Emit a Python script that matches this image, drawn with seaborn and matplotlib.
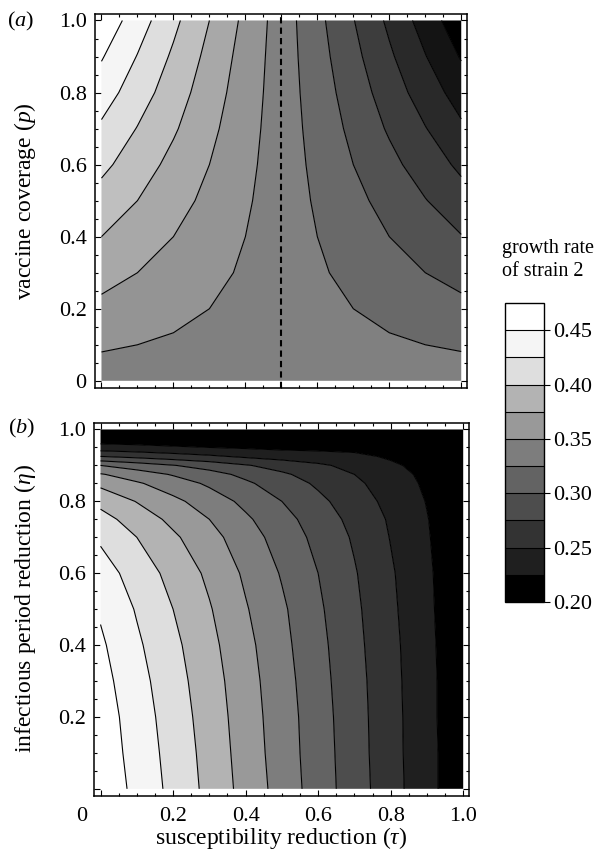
import matplotlib
matplotlib.use("Agg")
import matplotlib.pyplot as plt
import matplotlib.transforms as mtransforms
import seaborn as sns

# ---------------- data ----------------
# panel (a): growth rate of strain 2 vs susceptibility reduction (tau) and vaccine coverage (p)
tau_a = [0.0, 0.1, 0.2, 0.3, 0.4, 0.5, 0.6, 0.7, 0.8, 0.9, 1.0]
p_a = [0.0, 0.1, 0.2, 0.3, 0.4, 0.5, 0.6, 0.7, 0.8, 0.9, 1.0]
growth_a = [
    [0.338, 0.338, 0.338, 0.338, 0.338, 0.338, 0.338, 0.338, 0.338, 0.338, 0.338],
    [0.353, 0.350, 0.347, 0.344, 0.341, 0.338, 0.334, 0.331, 0.328, 0.325, 0.322],
    [0.369, 0.362, 0.356, 0.350, 0.344, 0.338, 0.331, 0.325, 0.319, 0.313, 0.307],
    [0.384, 0.375, 0.365, 0.356, 0.347, 0.338, 0.328, 0.319, 0.310, 0.300, 0.291],
    [0.400, 0.387, 0.375, 0.362, 0.350, 0.338, 0.325, 0.313, 0.300, 0.288, 0.276],
    [0.415, 0.400, 0.384, 0.369, 0.353, 0.338, 0.322, 0.307, 0.291, 0.276, 0.260],
    [0.431, 0.412, 0.393, 0.375, 0.356, 0.338, 0.319, 0.300, 0.282, 0.263, 0.245],
    [0.446, 0.424, 0.403, 0.381, 0.359, 0.338, 0.316, 0.294, 0.272, 0.251, 0.229],
    [0.462, 0.437, 0.412, 0.387, 0.362, 0.338, 0.313, 0.288, 0.263, 0.238, 0.214],
    [0.477, 0.449, 0.421, 0.393, 0.365, 0.338, 0.310, 0.282, 0.254, 0.226, 0.198],
    [0.493, 0.462, 0.431, 0.400, 0.369, 0.338, 0.307, 0.276, 0.245, 0.214, 0.183],
]

# panel (b): growth rate vs susceptibility reduction (tau) and infectious period reduction (eta)
tau_b = [0.0, 0.1, 0.2, 0.3, 0.4, 0.5, 0.6, 0.7, 0.8, 0.9, 1.0]
eta_b = [0.0, 0.1, 0.2, 0.3, 0.4, 0.5, 0.6, 0.7, 0.75, 0.8, 0.85, 0.875, 0.9, 0.925, 0.95, 0.975, 1.0]
growth_b = [
    [0.469, 0.443, 0.418, 0.393, 0.366, 0.340, 0.313, 0.287, 0.260, 0.233, 0.207],
    [0.466, 0.440, 0.416, 0.391, 0.364, 0.338, 0.312, 0.286, 0.259, 0.233, 0.207],
    [0.463, 0.438, 0.413, 0.389, 0.362, 0.337, 0.311, 0.285, 0.259, 0.232, 0.207],
    [0.459, 0.434, 0.410, 0.386, 0.360, 0.335, 0.309, 0.284, 0.258, 0.232, 0.207],
    [0.454, 0.429, 0.406, 0.382, 0.357, 0.332, 0.307, 0.282, 0.257, 0.231, 0.207],
    [0.447, 0.423, 0.400, 0.377, 0.352, 0.329, 0.304, 0.280, 0.255, 0.230, 0.206],
    [0.437, 0.414, 0.392, 0.370, 0.346, 0.323, 0.300, 0.277, 0.253, 0.229, 0.206],
    [0.421, 0.400, 0.379, 0.359, 0.336, 0.315, 0.293, 0.272, 0.249, 0.227, 0.206],
    [0.409, 0.389, 0.369, 0.350, 0.329, 0.309, 0.288, 0.268, 0.247, 0.226, 0.205],
    [0.393, 0.374, 0.356, 0.338, 0.319, 0.300, 0.281, 0.262, 0.243, 0.224, 0.205],
    [0.369, 0.353, 0.337, 0.321, 0.304, 0.288, 0.271, 0.255, 0.238, 0.221, 0.204],
    [0.352, 0.337, 0.323, 0.309, 0.294, 0.279, 0.264, 0.250, 0.235, 0.219, 0.204],
    [0.325, 0.313, 0.301, 0.290, 0.277, 0.265, 0.254, 0.243, 0.230, 0.215, 0.203],
    [0.275, 0.268, 0.261, 0.254, 0.246, 0.240, 0.236, 0.232, 0.221, 0.209, 0.202],
    [0.235, 0.232, 0.228, 0.225, 0.222, 0.219, 0.218, 0.216, 0.209, 0.204, 0.201],
    [0.210, 0.209, 0.208, 0.207, 0.206, 0.205, 0.204, 0.203, 0.202, 0.201, 0.200],
    [0.200, 0.200, 0.200, 0.200, 0.200, 0.200, 0.200, 0.200, 0.200, 0.200, 0.200],
]

levels_a = [0.175, 0.200, 0.225, 0.250, 0.275, 0.300, 0.325, 0.350,
            0.375, 0.400, 0.425, 0.450, 0.475, 0.500]
levels_b = [0.200, 0.225, 0.250, 0.275, 0.300, 0.325, 0.350,
            0.375, 0.400, 0.425, 0.450, 0.475]
shades_a = [0.0, 0.08, 0.16, 0.24, 0.32, 0.41, 0.50, 0.58, 0.66, 0.75, 0.87, 0.96, 1.0]
shades_b = [0.0, 0.12, 0.20, 0.30, 0.39, 0.49, 0.60, 0.70, 0.87, 0.96, 1.0]
cbar_ticks = [0.20, 0.25, 0.30, 0.35, 0.40, 0.45]
axis_ticks = [0.0, 0.2, 0.4, 0.6, 0.8, 1.0]
axis_ticklabels = ["0", "0.2", "0.4", "0.6", "0.8", "1.0"]

# ---------------- style ----------------
sns.set_theme(style="ticks")
plt.rcParams.update({
    "font.family": ["Liberation Serif", "DejaVu Serif"],
    "mathtext.fontset": "custom",
    "mathtext.rm": "Liberation Serif",
    "mathtext.it": "Liberation Serif:italic",
    "mathtext.bf": "Liberation Serif:bold",
    "axes.edgecolor": "black",
    "axes.linewidth": 1.1,
    "text.color": "black",
    "xtick.color": "black",
    "ytick.color": "black",
    "axes.labelcolor": "black",
})

W, H = 613, 857
fig = plt.figure(figsize=(W / 100, H / 100), dpi=100)


def frac_box(left, top, right, bottom):
    return [left / W, 1 - bottom / H, (right - left) / W, (bottom - top) / H]


ax_a = fig.add_axes(frac_box(95, 14, 467, 388))
ax_b = fig.add_axes(frac_box(94, 423, 469, 796))

cf_a = ax_a.contourf(tau_a, p_a, growth_a, levels=levels_a,
                     colors=[str(s) for s in shades_a], antialiased=True)
ax_a.contour(tau_a, p_a, growth_a, levels=levels_a[1:-1], colors="black",
             linewidths=0.8)
ax_a.axvline(0.5, color="black", lw=1.5, linestyle=(0, (3.0, 2.0)))

cf_b = ax_b.contourf(tau_b, eta_b, growth_b, levels=levels_b,
                     colors=[str(s) for s in shades_b], antialiased=True)
ax_b.contour(tau_b, eta_b, growth_b, levels=levels_b[1:-1], colors="black",
             linewidths=0.8)

for ax in (ax_a, ax_b):
    ax.set_xlim(-0.018, 1.016)
    ax.set_ylim(-0.02, 1.018)
    ax.set_xticks(axis_ticks)
    ax.set_yticks(axis_ticks)
    ax.set_xticks([t / 20 for t in range(21)], minor=True)
    ax.set_yticks([t / 20 for t in range(21)], minor=True)
    ax.tick_params(which="both", direction="in", top=True, right=True,
                   width=0.8, labelsize=16, pad=6)
    ax.tick_params(which="major", length=4.5)
    ax.tick_params(which="minor", length=2.5)
    for sp in ax.spines.values():
        sp.set_linewidth(1.1)
        sp.set_color("black")

ax_a.set_yticklabels(axis_ticklabels)
ax_a.set_xticklabels([])
ax_b.set_yticklabels([""] + axis_ticklabels[1:])
ax_b.set_xticklabels(axis_ticklabels)
ax_b.tick_params(axis="x", pad=8)
# Mathematica-style placement of the corner "0" label
shift = mtransforms.ScaledTranslation(-19 / 100, 0, fig.dpi_scale_trans)
lab0 = ax_b.get_xticklabels()[0]
lab0.set_transform(lab0.get_transform() + shift)

# labels
fig.text(25 / W, 1 - 201 / H, r"vaccine coverage ($p$)", rotation=90,
         ha="center", va="center", fontsize=17)
fig.text(25 / W, 1 - 609 / H, r"infectious period reduction ($\eta$)", rotation=90,
         ha="center", va="center", fontsize=17)
fig.text(281 / W, 1 - 838 / H, r"susceptibility reduction ($\tau$)",
         ha="center", va="center", fontsize=17)
fig.text(21 / W, 1 - 21 / H, r"($a$)", ha="center", va="center", fontsize=16)
fig.text(22 / W, 1 - 428 / H, r"($b$)", ha="center", va="center", fontsize=16)

# colour bar
cax = fig.add_axes(frac_box(505, 303, 544, 602))
cb = fig.colorbar(cf_b, cax=cax, ticks=cbar_ticks, drawedges=True)
cb.ax.set_yticklabels([f"{t:.2f}" for t in cbar_ticks])
cb.outline.set_linewidth(1.0)
cb.outline.set_edgecolor("black")
cb.dividers.set_color("black")
cb.dividers.set_linewidth(0.8)
cb.ax.minorticks_off()
cb.ax.tick_params(direction="out", length=4.5, width=0.8, labelsize=16, pad=2,
                  colors="black")
fig.text(502 / W, 1 - 260 / H, "growth rate\nof strain 2", ha="left",
         va="center", fontsize=14.5, linespacing=1.25)

fig.savefig("out.png", dpi=100, facecolor="white")
